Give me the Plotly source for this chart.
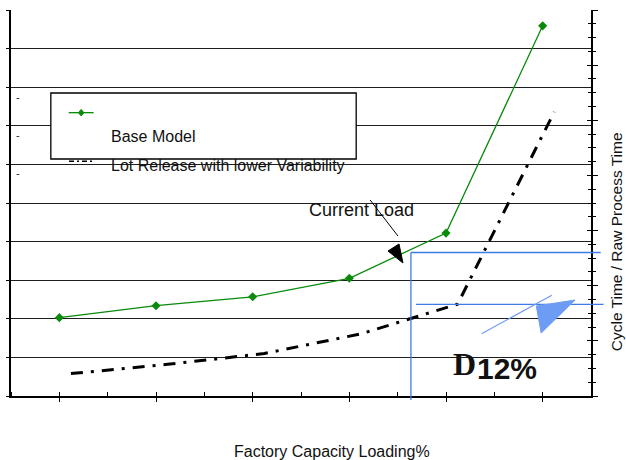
import plotly.graph_objects as go

# Factory loading steps (category positions 1..6 on the x axis)
load_steps = [1, 2, 3, 4, 5, 6]

# Cycle time ratio, base model (left-axis grid units)
base_model = [2.03, 2.34, 2.57, 3.05, 4.22, 9.59]

# Lot release with lower variability, plotted slightly offset from the categories
lot_release_x = [1.12, 2.12, 3.12, 4.12, 5.12, 6.12]
lot_release = [0.58, 0.82, 1.10, 1.61, 2.38, 7.36]

X_RANGE = (0.5, 6.5)
Y_RANGE = (0, 10)
Y2_RANGE = (0, 7)

FONT = "Liberation Sans, Arial, sans-serif"
BLUE_LINE = "#3f7be6"
BLUE_FILL = "#6d9cf5"


def to_paper_x(x):
    return (x - X_RANGE[0]) / (X_RANGE[1] - X_RANGE[0])


def to_paper_y(y):
    return (y - Y_RANGE[0]) / (Y_RANGE[1] - Y_RANGE[0])


def seg(x0, y0, x1, y1, color, width, dash=None):
    line = dict(color=color, width=width)
    if dash:
        line["dash"] = dash
    return dict(type="line", xref="paper", yref="paper",
                x0=to_paper_x(x0), y0=to_paper_y(y0),
                x1=to_paper_x(x1), y1=to_paper_y(y1), line=line)


def poly(points, color):
    d = "M " + " L ".join(f"{to_paper_x(x)},{to_paper_y(y)}" for x, y in points) + " Z"
    return dict(type="path", xref="paper", yref="paper", path=d,
                fillcolor=color, line=dict(color=color, width=1))


fig = go.Figure()

fig.add_trace(go.Scatter(
    x=load_steps, y=base_model, mode="lines+markers", name="Base Model",
    line=dict(color="#0a8a0a", width=1.3),
    marker=dict(symbol="diamond", size=7, color="#0a8a0a"),
    cliponaxis=False, showlegend=False,
))

fig.add_trace(go.Scatter(
    x=lot_release_x, y=lot_release, mode="lines",
    name="Lot Release with lower Variability",
    line=dict(color="black", width=3, dash="12px,8px,3px,8px"),
    showlegend=False,
))

# invisible traces to activate the overlay axes
fig.add_trace(go.Scatter(x=[None], y=[None], yaxis="y2", showlegend=False))
fig.add_trace(go.Scatter(x=[None], y=[None], yaxis="y3", showlegend=False))
fig.add_trace(go.Scatter(x=[None], y=[None], xaxis="x2", showlegend=False))

shapes = []

# hand-drawn legend box
lx0, lx1 = 0.912, 4.071
ly0, ly1 = 6.14, 7.85
shapes.append(dict(type="rect", xref="paper", yref="paper",
                   x0=to_paper_x(lx0), x1=to_paper_x(lx1),
                   y0=to_paper_y(ly0), y1=to_paper_y(ly1),
                   fillcolor="white", line=dict(color="black", width=1.3),
                   layer="above"))
# green legend sample with a diamond marker
shapes.append(seg(1.097, 7.34, 1.355, 7.34, "#0a8a0a", 1.3))
mx, my = 1.226, 7.34
dx, dy = 0.028, 0.085
shapes.append(poly([(mx - dx, my), (mx, my + dy), (mx + dx, my), (mx, my - dy)], "#0a8a0a"))
# remains of the dash-dot legend sample below the box
shapes.append(seg(1.10, 6.08, 1.36, 6.08, "black", 1.5, "5px,3px,2px,3px"))

# "Current Load" pointer
shapes.append(seg(4.215, 5.078, 4.503, 4.145, "black", 1))
shapes.append(poly([(4.400, 3.756), (4.514, 3.938), (4.555, 3.446)], "black"))

# blue delta bracket
shapes.append(seg(4.637, 3.718, 4.637, -0.104, BLUE_LINE, 1.3))
shapes.append(seg(4.637, 3.718, 6.60, 3.718, BLUE_LINE, 1.3))
shapes.append(seg(4.689, 2.376, 6.63, 2.376, BLUE_LINE, 1.3))
shapes.append(seg(5.368, 1.614, 6.095, 2.609, BLUE_FILL, 1.2))
shapes.append(poly([(5.934, 2.332), (6.335, 2.487), (5.985, 1.632)], BLUE_FILL))

annotations = [
    dict(x=1.514, y=6.73, xref="x", yref="y", text="Base Model",
         showarrow=False, xanchor="left", yanchor="middle",
         font=dict(family=FONT, size=16, color="#111")),
    dict(x=1.514, y=5.97, xref="x", yref="y", text="Lot Release with lower Variability",
         showarrow=False, xanchor="left", yanchor="middle",
         font=dict(family=FONT, size=16, color="#111")),
    dict(x=4.123, y=4.82, xref="x", yref="y", text="Current Load",
         showarrow=False, xanchor="center", yanchor="middle",
         font=dict(family=FONT, size=18, color="#111")),
    dict(x=5.193, y=0.83, xref="x", yref="y", text="<b>D</b>",
         showarrow=False, xanchor="center", yanchor="middle",
         font=dict(family="Liberation Serif, Times New Roman, serif", size=32, color="#111")),
    dict(x=5.635, y=0.70, xref="x", yref="y", text="<b>12%</b>",
         showarrow=False, xanchor="center", yanchor="middle",
         font=dict(family=FONT, size=30, color="#111")),
    dict(x=to_paper_x(3.82), y=-0.1425, xref="paper", yref="paper",
         text="Factory Capacity Loading%", showarrow=False,
         xanchor="center", yanchor="middle",
         font=dict(family=FONT, size=16, color="#111")),
    dict(x=to_paper_x(6.765), y=0.40, xref="paper", yref="paper",
         text="Cycle Time / Raw Process Time", showarrow=False, textangle=-90,
         xanchor="center", yanchor="middle",
         font=dict(family=FONT, size=15.5, color="#111")),
]
for yy in (7.75, 6.76, 5.77):
    annotations.append(dict(x=0.57, y=yy, xref="x", yref="y", text="-",
                            showarrow=False, xanchor="center", yanchor="middle",
                            font=dict(family=FONT, size=11, color="#222")))

axis_common = dict(showticklabels=False, zeroline=False, ticks="outside",
                   tickcolor="black", linecolor="black")

fig.update_layout(
    width=626, height=460,
    margin=dict(l=8, r=35, t=10, b=64),
    paper_bgcolor="white", plot_bgcolor="white",
    showlegend=False,
    xaxis=dict(range=list(X_RANGE), tickvals=load_steps, ticklen=4, tickwidth=1.2,
               showline=True, linewidth=2, showgrid=False,
               minor=dict(dtick=0.5, tick0=0.5, ticks="inside", ticklen=4,
                          tickcolor="black", tickwidth=1.2, showgrid=False),
               **axis_common),
    xaxis2=dict(range=list(X_RANGE), overlaying="x", anchor="y",
                tickvals=load_steps, ticks="inside", ticklen=4, tickwidth=1.2,
                showticklabels=False, showgrid=False, zeroline=False,
                tickcolor="black", showline=False),
    yaxis=dict(range=list(Y_RANGE), dtick=1, ticklen=3, tickwidth=1.2,
               showline=True, linewidth=2, showgrid=True,
               gridcolor="#1e1e1e", gridwidth=1.2, **axis_common),
    yaxis2=dict(range=list(Y2_RANGE), dtick=1, overlaying="y", side="right",
                anchor="x", ticklen=5, tickwidth=1.2, showline=True, linewidth=2,
                showgrid=False,
                minor=dict(dtick=0.25, ticks="outside", ticklen=3,
                           tickcolor="black", tickwidth=1, showgrid=False),
                **axis_common),
    yaxis3=dict(range=list(Y2_RANGE), dtick=1, overlaying="y", side="right",
                anchor="x", ticks="inside", ticklen=4, tickwidth=1.2,
                showticklabels=False, showgrid=False, zeroline=False,
                tickcolor="black", showline=False,
                minor=dict(dtick=0.25, ticks="inside", ticklen=3,
                           tickcolor="black", tickwidth=1, showgrid=False)),
    shapes=shapes,
    annotations=annotations,
)

fig.write_html("out.html")
